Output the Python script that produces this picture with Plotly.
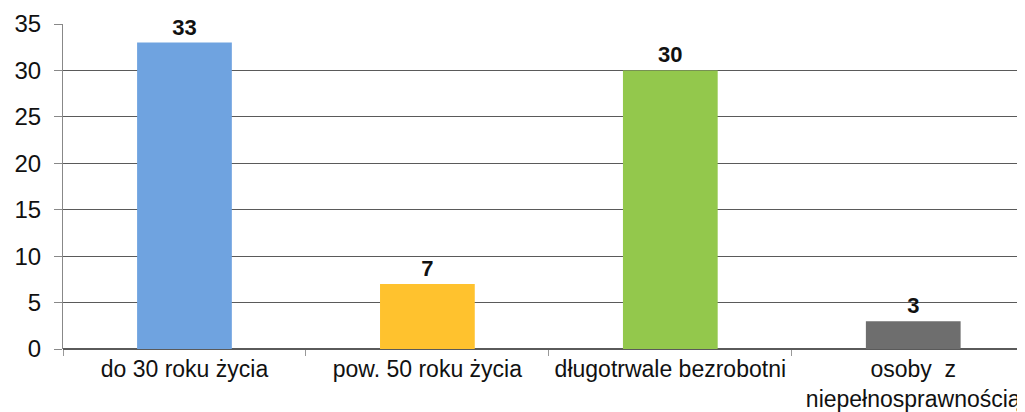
import plotly.graph_objects as go

categories = ["do 30 roku życia", "pow. 50 roku życia", "długotrwale bezrobotni",
              "osoby  z<br>niepełnosprawnością"]
values = [33, 7, 30, 3]
bar_colors = ["#6FA3E0", "#FFC22E", "#93C84C", "#6E6E6E"]

fig = go.Figure(go.Bar(
    x=categories,
    y=values,
    width=0.39,
    marker=dict(color=bar_colors, line=dict(width=0)),
    text=[str(v) for v in values],
    textposition="outside",
    cliponaxis=False,
    textfont=dict(family="Liberation Sans, Arial", size=22, color="#111111",
                  weight="bold"),
))

# the page adds an 8px body margin, so the figure is sized to fit inside it
fig.update_layout(
    width=1017, height=404,
    margin=dict(l=55, r=0, t=16, b=63),
    paper_bgcolor="white",
    plot_bgcolor="white",
    showlegend=False,
    font=dict(family="Liberation Sans, Arial", color="#111111"),
)
fig.update_xaxes(
    automargin=False,
    range=[-0.5, 3.46],
    showline=False,
    ticks="outside", tickson="boundaries", ticklen=6, tickcolor="#999999",
    tickfont=dict(size=23),
    tickangle=0,
    ticklabelstandoff=4,
    showgrid=False,
)
fig.update_yaxes(
    automargin=False,
    range=[0, 35], dtick=5,
    showgrid=True, gridcolor="#5a5a5a", gridwidth=1,
    showline=True, linecolor="#888888", linewidth=1,
    ticks="outside", ticklen=8, tickcolor="#888888",
    tickfont=dict(size=24),
    ticklabelstandoff=8,
    zeroline=True, zerolinecolor="#5a5a5a",
)

fig.write_html("out.html")
